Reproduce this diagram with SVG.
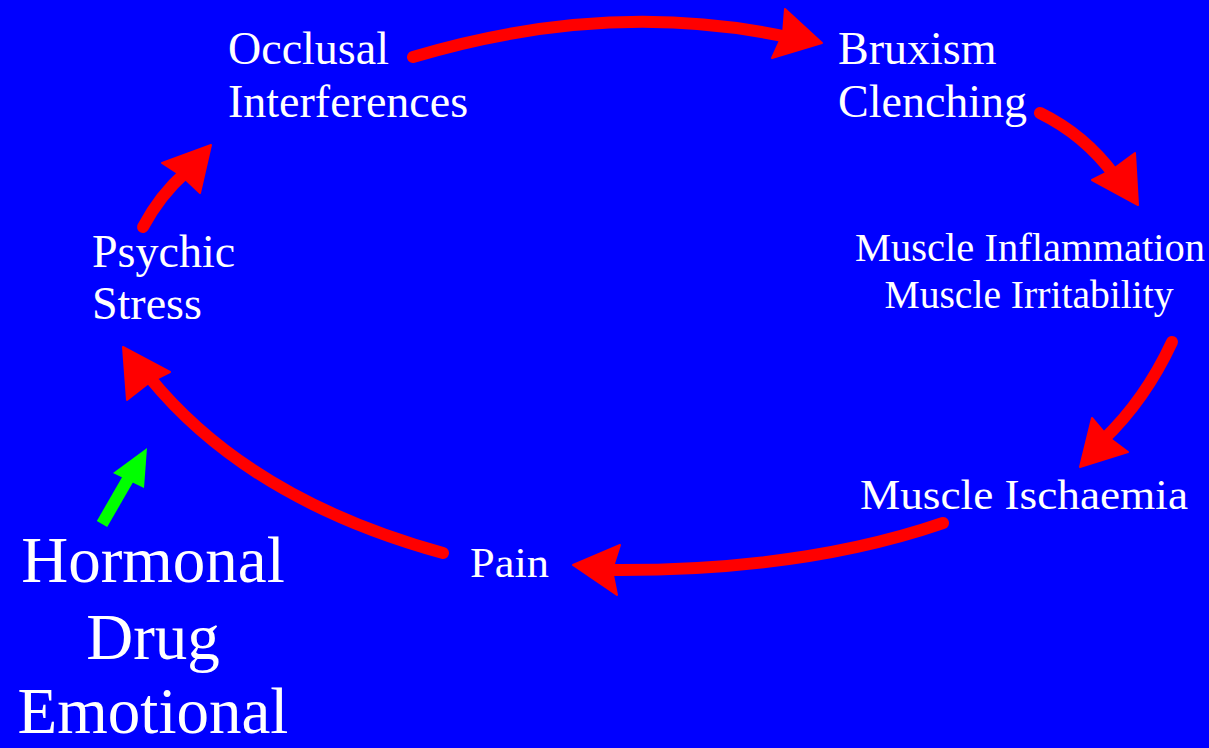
<svg xmlns="http://www.w3.org/2000/svg" width="1209" height="748" viewBox="0 0 1209 748">
<style>
.t{font-family:"Liberation Serif","Times New Roman",serif;fill:#fff}
.s{fill:none;stroke:#f00;stroke-width:12;stroke-linecap:round}
.h{fill:#f00;stroke:#f00;stroke-width:2;stroke-linejoin:round}
</style>
<rect width="1209" height="748" fill="#0000ff"/>
<g id="connectors">
<path class="s" d="M413,57 Q610,-2 792,38"/>
<polygon class="h" points="822,43 785,9 783,34 772,58"/>
<path class="s" d="M1040,113 Q1085,135 1115,176"/>
<polygon class="h" points="1138,205 1135,153 1112,170 1092,180"/>
<path class="s" d="M1172,342 Q1145,400 1103,440"/>
<polygon class="h" points="1080,467 1092,418 1108,437 1128,452"/>
<path class="s" d="M943,523 Q800,572 605,570"/>
<polygon class="h" points="573,565 620,545 612,570 617,595"/>
<path class="s" d="M443,553 Q250,500 150,378"/>
<polygon class="h" points="123,347 170,372 150,382 127,400"/>
<path class="s" d="M143,227 Q160,195 186,172"/>
<polygon class="h" points="211,145 162,163 182,176 200,193"/>
<line x1="102" y1="524" x2="132" y2="472" stroke="#00ff00" stroke-width="12"/>
<polygon fill="#00ff00" points="147,448 113,473 144,488"/>
</g>
<g id="occlusal"><text class="t" font-size="46" x="228" y="64">Occlusal</text><text class="t" font-size="46" x="228" y="117">Interferences</text></g>
<g id="bruxism"><text class="t" font-size="46" x="838" y="64">Bruxism</text><text class="t" font-size="46" x="838" y="117">Clenching</text></g>
<g id="inflammation"><text class="t" font-size="39" x="1030" y="261" text-anchor="middle" textLength="350" lengthAdjust="spacingAndGlyphs">Muscle Inflammation</text><text class="t" font-size="39" x="1029" y="308" text-anchor="middle" textLength="289" lengthAdjust="spacingAndGlyphs">Muscle Irritability</text></g>
<g id="ischaemia"><text class="t" font-size="42" x="860" y="509" textLength="328" lengthAdjust="spacingAndGlyphs">Muscle Ischaemia</text></g>
<g id="pain"><text class="t" font-size="42" x="470" y="577" textLength="79" lengthAdjust="spacingAndGlyphs">Pain</text></g>
<g id="psychic"><text class="t" font-size="46" x="92" y="267">Psychic</text><text class="t" font-size="46" x="92" y="319">Stress</text></g>
<g id="factors"><text class="t" font-size="65" x="153" y="582" text-anchor="middle">Hormonal</text><text class="t" font-size="65" x="153" y="659" text-anchor="middle">Drug</text><text class="t" font-size="65" x="153" y="733" text-anchor="middle">Emotional</text></g>
</svg>
